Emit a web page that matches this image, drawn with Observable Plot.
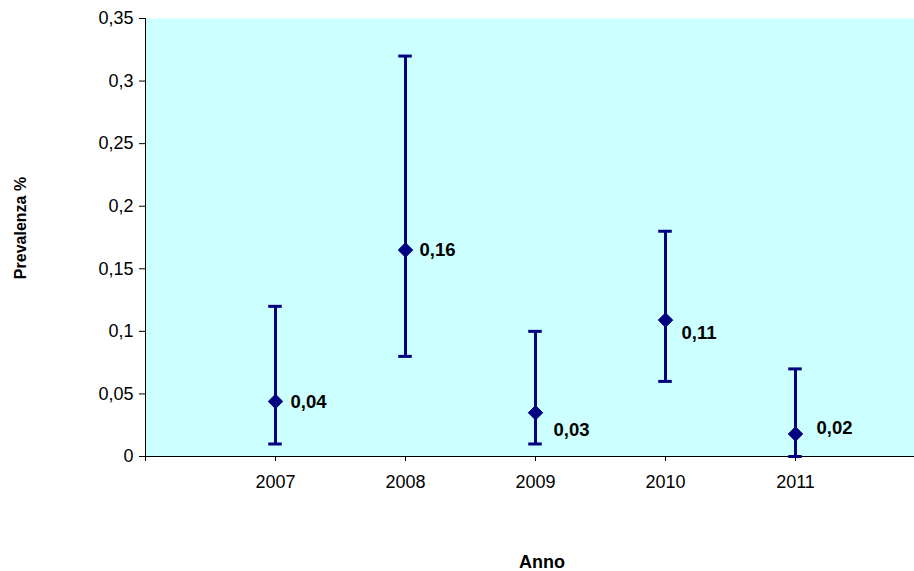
<!DOCTYPE html>
<html>
<head>
<meta charset="utf-8">
<script src="https://cdn.jsdelivr.net/npm/d3@7"></script>
<script src="https://cdn.jsdelivr.net/npm/@observablehq/plot@0.6"></script>
<style>
  html, body { margin: 0; padding: 0; background: #fff; }
  #wrap { position: relative; width: 914px; height: 571px; overflow: hidden; font-family: "Liberation Sans", Arial, sans-serif; }
  #chart { position: absolute; left: 0; top: 0; width: 925px; }
  #chart svg { max-width: none !important; }
  .ttl { position: absolute; font-weight: bold; color: #000; white-space: nowrap; line-height: 1; }
</style>
</head>
<body>
<div id="wrap">
  <div id="chart"></div>
  <div class="ttl" id="xt" style="left:542px; top:562px; font-size:18px; transform:translate(-50%,-50%);">Anno</div>
  <div class="ttl" id="yt" style="left:21px; top:228px; font-size:16px; transform:translate(-50%,-50%) rotate(-90deg);">Prevalenza %</div>
</div>
<script>
const years = [2007, 2008, 2009, 2010, 2011];
const prevalence = [0.044, 0.165, 0.035, 0.109, 0.018];
const lower = [0.01, 0.08, 0.01, 0.06, 0.0];
const upper = [0.12, 0.32, 0.10, 0.18, 0.07];
const valueLabels = ["0,04", "0,16", "0,03", "0,11", "0,02"];
const yTicks = [0, 0.05, 0.1, 0.15, 0.2, 0.25, 0.3, 0.35];
const xTicks = [2006, 2007, 2008, 2009, 2010, 2011];

const data = years.map((y, i) => ({year: y, v: prevalence[i], lo: lower[i], hi: upper[i], label: valueLabels[i]}));
const labelDx = [15, 14, 18, 16, 21];
const labelDy = [1, 0, 17, 13, -6];

const navy = "#000080";
const fmt = d => String(d).replace(".", ",");

const chart = Plot.plot({
  width: 925,
  height: 571,
  marginLeft: 145,
  marginRight: 0,
  marginTop: 18,
  marginBottom: 115,
  style: {fontFamily: "Liberation Sans, Arial, sans-serif", fontSize: "18px", color: "#000", background: "transparent"},
  x: {domain: [2006, 2012], label: null},
  y: {domain: [0, 0.35], label: null},
  marks: [
    Plot.frame({fill: "#ccffff", stroke: null}),
    Plot.axisY({ticks: yTicks, tickFormat: fmt, tickSize: 6, tickPadding: 6, label: null, fontSize: 18}),
    Plot.axisX({ticks: xTicks, tickFormat: d => (years.includes(d) ? String(d) : ""), tickSize: 5, tickPadding: 14, label: null, fontSize: 18}),
    Plot.ruleX([2006], {stroke: "#000", strokeWidth: 1}),
    Plot.ruleY([0], {stroke: "#000", strokeWidth: 1}),
    Plot.ruleX(data, {x: "year", y1: "lo", y2: "hi", stroke: navy, strokeWidth: 3}),
    Plot.ruleY(data, {y: "lo", x1: d => d.year - 0.052, x2: d => d.year + 0.052, stroke: navy, strokeWidth: 3}),
    Plot.ruleY(data, {y: "hi", x1: d => d.year - 0.052, x2: d => d.year + 0.052, stroke: navy, strokeWidth: 3}),
    Plot.dot(data, {x: "year", y: "v", symbol: "diamond2", r: 6.5, fill: navy, stroke: navy, strokeWidth: 1}),
    ...data.map((d, i) => Plot.text([d], {x: "year", y: "v", text: "label", textAnchor: "start", dx: labelDx[i], dy: labelDy[i], fontWeight: "bold", fontSize: 18.5, fill: "#000"}))
  ]
});
document.getElementById("chart").appendChild(chart);
</script>
</body>
</html>
